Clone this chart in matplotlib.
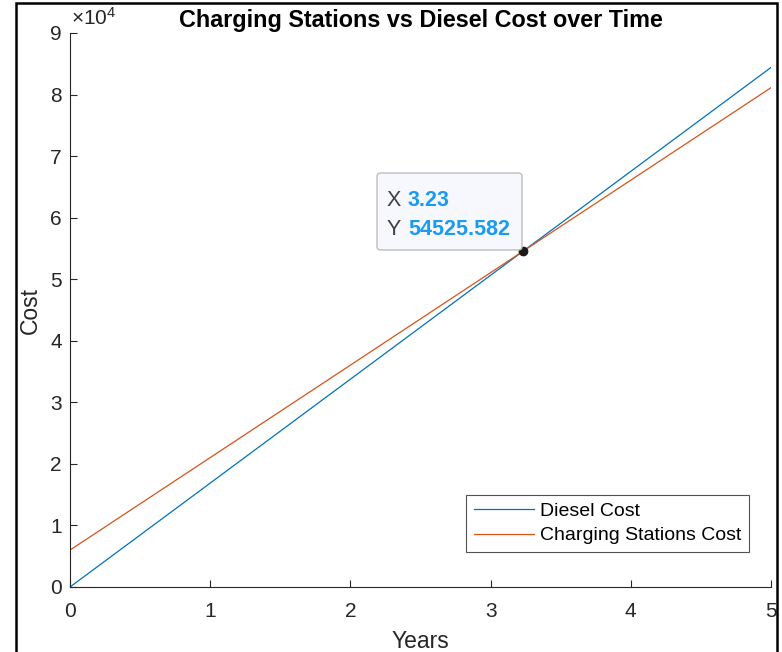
import matplotlib
matplotlib.use("Agg")
import matplotlib.pyplot as plt
from matplotlib.patches import Rectangle, FancyBboxPatch
from matplotlib.ticker import FuncFormatter

plt.rcParams['font.family'] = ['Liberation Sans', 'DejaVu Sans']
plt.rcParams['mathtext.fontset'] = 'custom'
plt.rcParams['mathtext.rm'] = 'Liberation Sans'
plt.rcParams['mathtext.it'] = 'Liberation Sans'

# Data
years = [0, 5]
diesel_cost = [0, 84405]
charging_cost = [6000, 81117]
tip_x = 3.23
tip_y = 54525.582
x_ticks = [0, 1, 2, 3, 4, 5]
y_ticks = [0, 10000, 20000, 30000, 40000, 50000, 60000, 70000, 80000, 90000]

W, H = 782, 652
fig = plt.figure(figsize=(W / 100, H / 100), dpi=100)
ax = fig.add_axes([70 / W, (H - 587) / H, 701 / W, 554 / H])

axc = '#262626'
ax.plot(years, diesel_cost, color='#0072BD', lw=0.9, label='Diesel Cost')
ax.plot(years, charging_cost, color='#D95319', lw=0.9, label='Charging Stations Cost')

ax.set_xlim(0, 5)
ax.set_ylim(0, 90000)
ax.set_xticks(x_ticks)
ax.set_yticks(y_ticks)
ax.yaxis.set_major_formatter(FuncFormatter(lambda v, p: f"{v / 1e4:g}"))
for s in ['top', 'right']:
    ax.spines[s].set_visible(False)
for s in ['left', 'bottom']:
    ax.spines[s].set_color(axc)
    ax.spines[s].set_linewidth(0.8)
ax.tick_params(direction='in', length=5, width=0.8, colors=axc, labelsize=15)
ax.tick_params(axis='x', pad=11)
ax.tick_params(axis='y', pad=6)

fig.text(71 / W, 1 - 25 / H, r'$\times10^{4}$', fontsize=15,
         color=axc, ha='left', va='baseline')

ax.set_xlabel('Years', fontsize=16.5, color=axc, labelpad=6)
ax.set_ylabel('Cost', fontsize=16.5, color=axc, labelpad=6)
ax.set_title('Charging Stations vs Diesel Cost over Time', fontsize=16.8,
             fontweight='bold', color='black', pad=4)

leg = ax.legend(loc='lower right', bbox_to_anchor=(0.969, 0.063), fontsize=14,
                frameon=True, fancybox=False, edgecolor=axc, handlelength=3.1,
                handletextpad=0.3, borderpad=0.4, labelspacing=0.35, borderaxespad=0)
leg.get_frame().set_linewidth(0.8)

# data tip
ax.plot([tip_x], [tip_y], 'o', color='#1a1a1a', ms=6, zorder=5)
bx0, by0 = 377, 173
bw, bh = 145, 77
box = FancyBboxPatch((bx0 / W, 1 - (by0 + bh) / H), bw / W, bh / H,
                     boxstyle='round,pad=0,rounding_size=0.005',
                     transform=fig.transFigure, facecolor='#f6f8fd',
                     edgecolor='#bdbdbd', lw=1.0, zorder=10)
fig.patches.append(box)
fig.text(387 / W, 1 - 201 / H, 'X', fontsize=15.5, color='#404040', va='center', zorder=11)
fig.text(408 / W, 1 - 201 / H, f'{tip_x:g}', fontsize=15.5, color='#1a9bf0',
         fontweight='bold', va='center', zorder=11)
fig.text(387 / W, 1 - 229 / H, 'Y', fontsize=15.5, color='#404040', va='center', zorder=11)
fig.text(408 / W, 1 - 229 / H, f'{tip_y:.3f}', fontsize=15.5, color='#1a9bf0',
         fontweight='bold', va='center', zorder=11)

# outer black frame
frame = Rectangle((16 / W, -0.05), (777 - 16) / W, 1.05 - 3 / H, transform=fig.transFigure,
                  fill=False, edgecolor='black', lw=1.8, zorder=20)
fig.patches.append(frame)

fig.savefig('out.png', dpi=100)
